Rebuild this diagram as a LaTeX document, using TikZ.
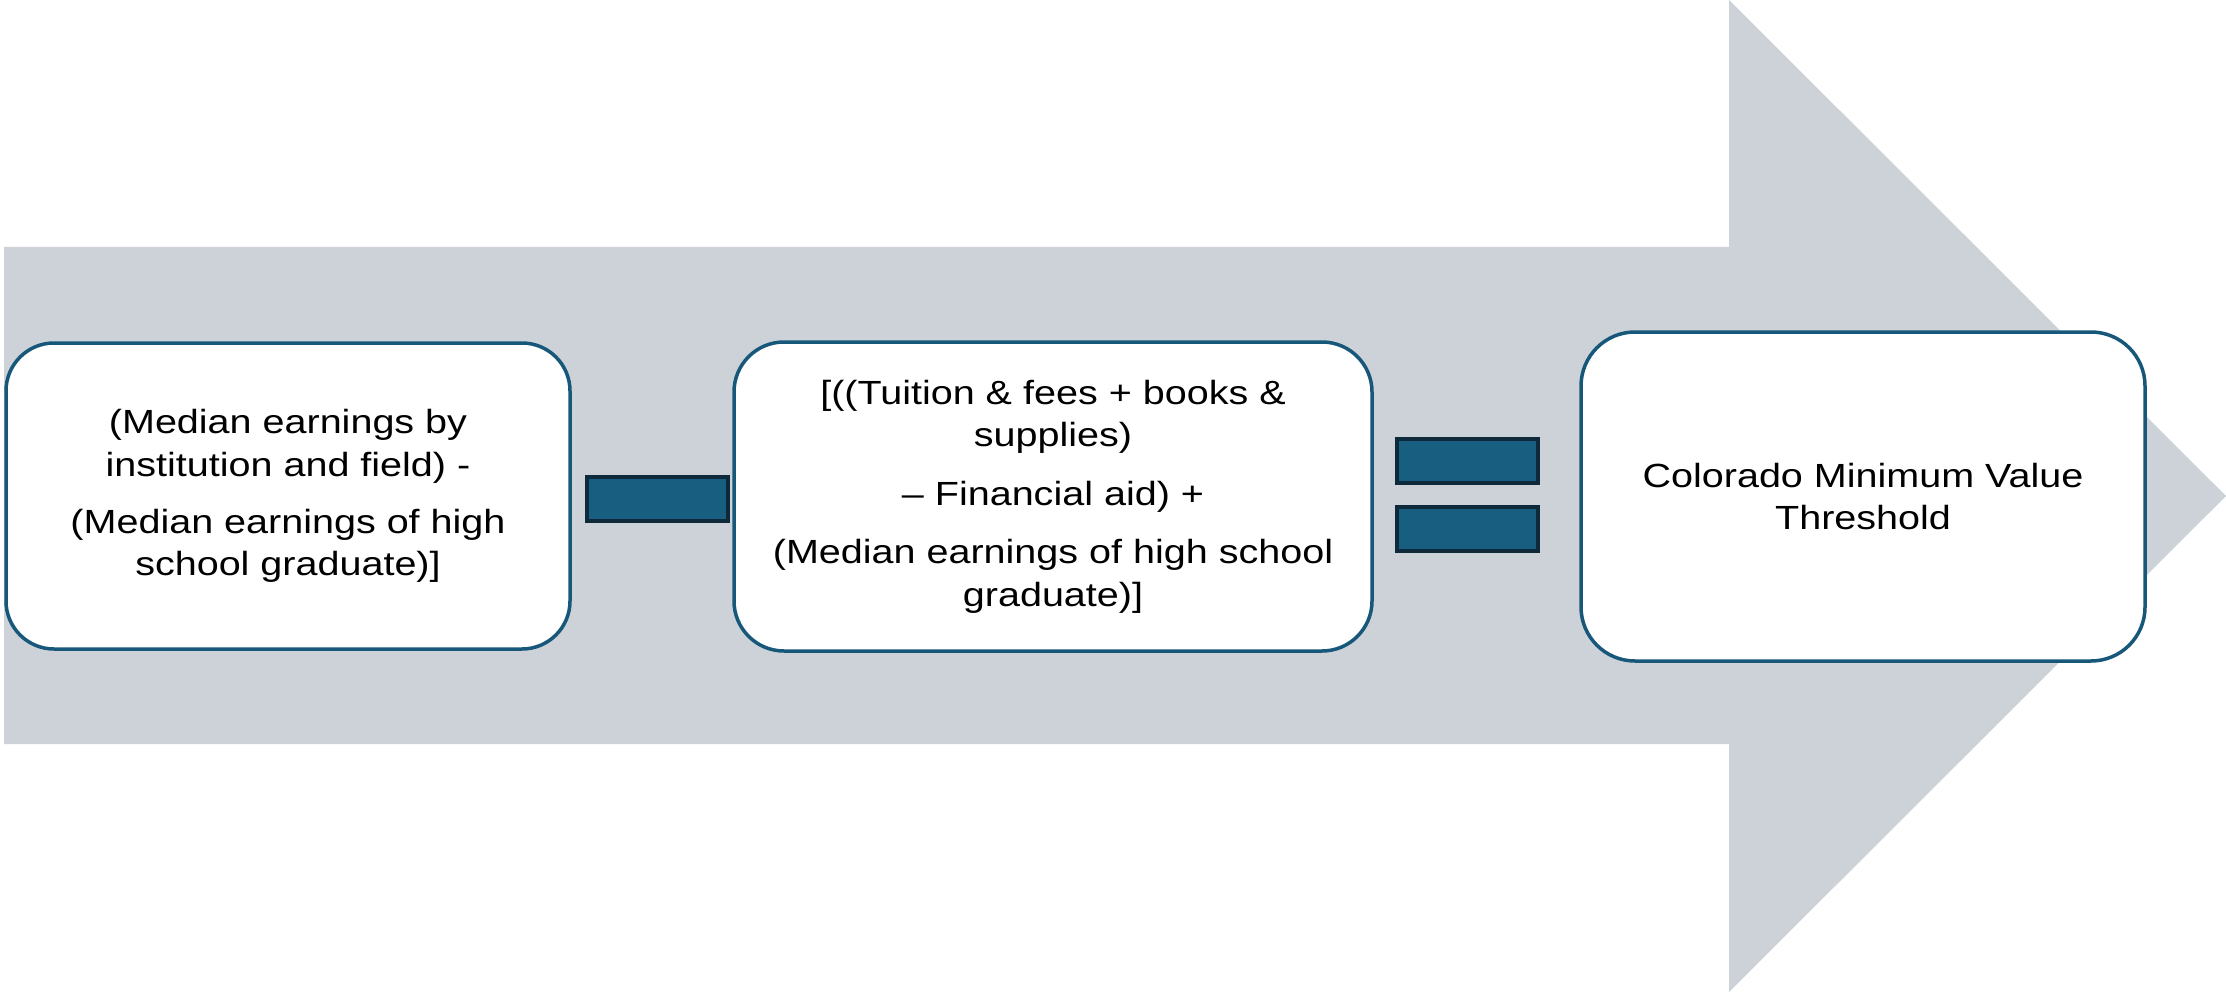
\documentclass[tikz,border=0pt]{standalone}
\usepackage{fontspec}
\newfontfamily\boxfont[FakeStretch=1.18]{Liberation Sans}
\definecolor{arrowgrey}{HTML}{CDD2D9}
\definecolor{boxline}{HTML}{17587A}
\definecolor{opfill}{HTML}{175E80}
\definecolor{opline}{HTML}{0E2A3A}
\begin{document}
\begin{tikzpicture}[x=1pt,y=-1pt,
  termbox/.style={draw=boxline, line width=3.5pt, fill=white, rounded corners=#1,
    inner sep=0pt, align=center, text=black,
    font=\boxfont\fontsize{33.5}{42.5}\selectfont},
  opbar/.style={draw=opline, fill=opfill, line width=4pt, inner sep=0pt,
    minimum width=141pt, minimum height=44pt}]
\useasboundingbox (0,0) rectangle (2226,992);
% background block arrow
\fill[arrowgrey] (4,247) -- (1729,247) -- (1729,0) -- (2226,496)
  -- (1729,992) -- (1729,744) -- (4,744) -- cycle;
% first term
\node[termbox=48pt, minimum width=564pt, minimum height=306pt] (earn) at (288,496)
  {(Median earnings by\\ institution and field) -\\[14.5pt]
   (Median earnings of high\\ school graduate)]};
% minus sign
\node[opbar] (minus) at (657.5,499) {};
% second term
\node[termbox=50pt, minimum width=638pt, minimum height=309pt] (cost) at (1053,496.5)
  {[((Tuition \& fees + books \&\\ supplies)\\[16pt]
   – Financial aid) +\\[16pt]
   (Median earnings of high school\\ graduate)]};
% equals sign
\node[opbar] (eqtop) at (1467.5,461) {};
\node[opbar] (eqbot) at (1467.5,529) {};
% result
\node[termbox=54pt, minimum width=564pt, minimum height=329pt] (mvt) at (1863,496.5)
  {Colorado Minimum Value\\ Threshold};
\end{tikzpicture}
\end{document}
